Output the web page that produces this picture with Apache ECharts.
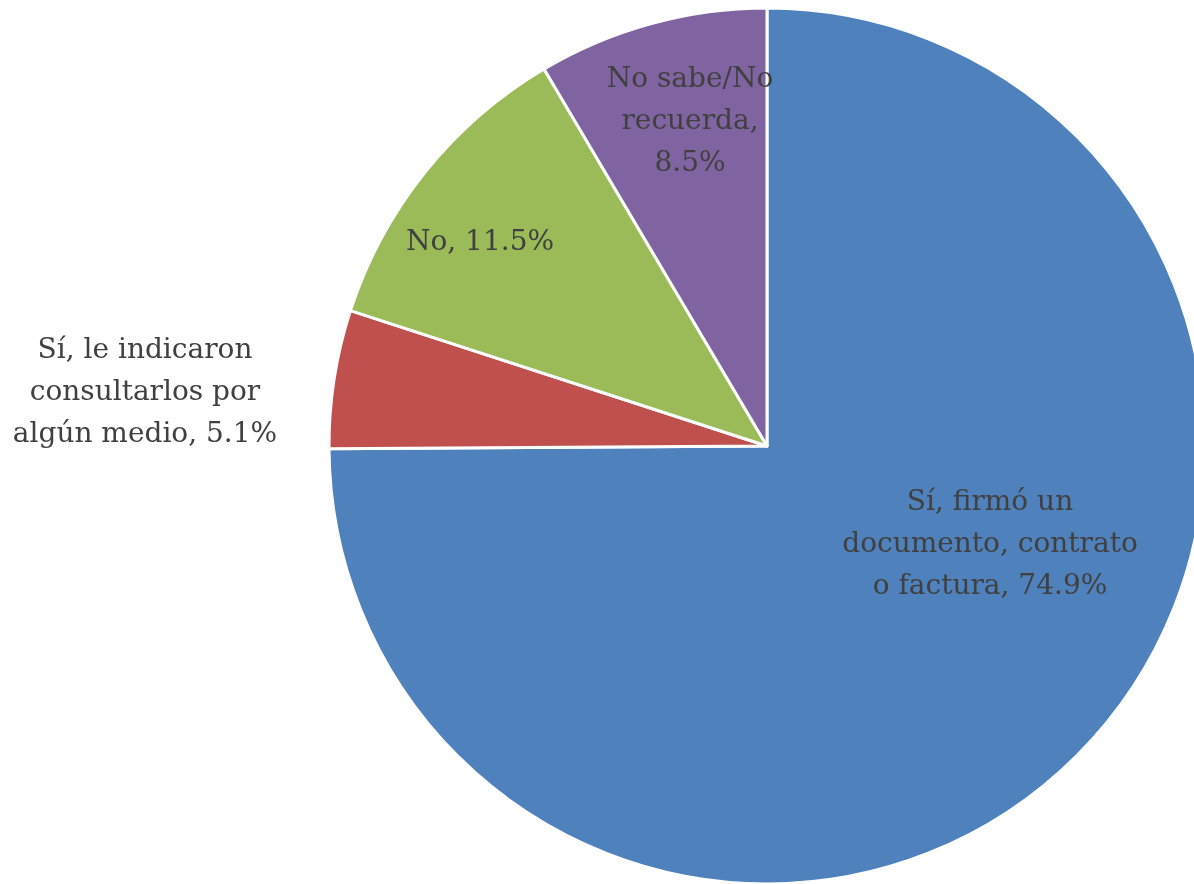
<!DOCTYPE html>
<html>
<head>
<meta charset="utf-8">
<script src="https://cdn.jsdelivr.net/npm/echarts@6/dist/echarts.min.js"></script>
<style>
html,body{margin:0;padding:0;background:#fff;}
#chart{width:1194px;height:884px;}
</style>
</head>
<body>
<div id="chart"></div>
<script>
const categories = [
  'Sí, firmó un\ndocumento, contrato\no factura',
  'Sí, le indicaron\nconsultarlos por\nalgún medio',
  'No',
  'No sabe/No\nrecuerda'
];
const values = [74.9, 5.1, 11.5, 8.5];
const separators = [', ', ', ', ', ', ',\n'];
const colors = ['#4F81BD', '#C0504D', '#9BBB59', '#8064A2'];

const labelPos = [[990, 545], [145, 393], [480, 243], [690, 122]];

const chart = echarts.init(document.getElementById('chart'));
chart.setOption({
  animation: false,
  series: [{
    type: 'pie',
    center: [767, 446],
    radius: 438,
    startAngle: 90,
    clockwise: true,
    avoidLabelOverlap: false,
    itemStyle: { borderColor: '#fff', borderWidth: 3 },
    label: {
      show: true,
      position: 'inside',
      fontFamily: 'DejaVu Serif',
      fontSize: 28,
      lineHeight: 42,
      color: '#404040',
      align: 'center',
      formatter: p => p.name + separators[p.dataIndex] + values[p.dataIndex].toFixed(1) + '%'
    },
    labelLine: { show: false },
    labelLayout: p => ({
      x: labelPos[p.dataIndex][0],
      y: labelPos[p.dataIndex][1],
      align: 'center',
      verticalAlign: 'middle'
    }),
    data: categories.map((c, i) => ({ name: c, value: values[i], itemStyle: { color: colors[i] } }))
  }]
});
</script>
</body>
</html>
